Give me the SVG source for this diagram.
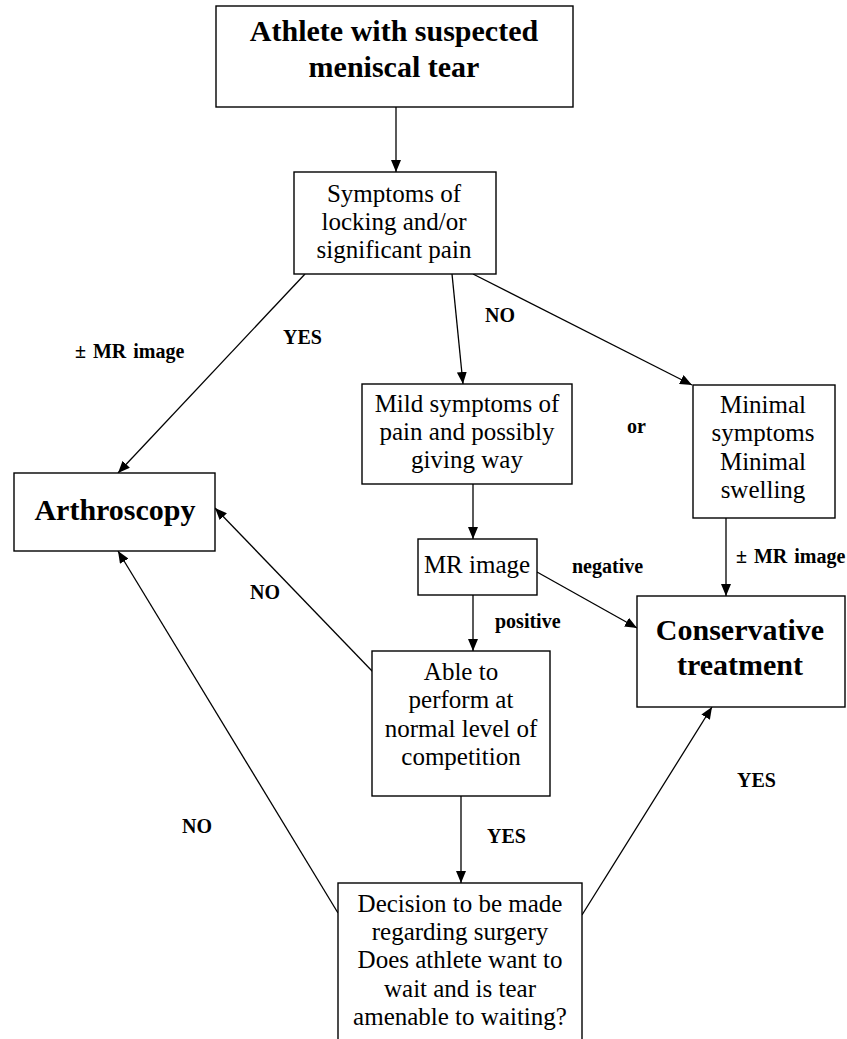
<svg xmlns="http://www.w3.org/2000/svg" width="847" height="1039" viewBox="0 0 847 1039">
<defs>
<style>
.box{fill:#fff;stroke:#000;stroke-width:1.4}
.t{font-family:"Liberation Serif","Times New Roman",serif;font-size:25px;fill:#000;text-anchor:middle}
.tb{font-family:"Liberation Serif","Times New Roman",serif;font-size:30px;font-weight:bold;fill:#000;text-anchor:middle}
.lb{font-family:"Liberation Serif","Times New Roman",serif;font-size:20px;font-weight:bold;fill:#000}
.c{fill:none;stroke:#000;stroke-width:1.3;marker-end:url(#ah)}
</style>
<marker id="ah" viewBox="0 0 12 10" refX="12" refY="5" markerWidth="12" markerHeight="10" markerUnits="userSpaceOnUse" orient="auto">
<path d="M0,0 L12,5 L0,10 Z" fill="#000"/>
</marker>
</defs>
<rect width="847" height="1039" fill="#fff"/>
<g id="connectors">
<line class="c" x1="396" y1="107" x2="396" y2="172"/>
<line class="c" x1="305" y1="274" x2="118" y2="473"/>
<line class="c" x1="452" y1="274" x2="463" y2="384"/>
<line class="c" x1="473" y1="274" x2="692" y2="385"/>
<line class="c" x1="473" y1="484" x2="473" y2="539"/>
<line class="c" x1="726" y1="518" x2="726" y2="596"/>
<line class="c" x1="537" y1="572" x2="637" y2="628"/>
<line class="c" x1="473" y1="595" x2="473" y2="651"/>
<line class="c" x1="373" y1="672" x2="215" y2="508"/>
<line class="c" x1="461" y1="796" x2="461" y2="883"/>
<line class="c" x1="338" y1="913" x2="118" y2="551"/>
<line class="c" x1="582" y1="915" x2="712" y2="707"/>
</g>
<g id="labels">
<text class="lb" x="75" y="358" word-spacing="2">± MR image</text>
<text class="lb" x="283" y="344">YES</text>
<text class="lb" x="485" y="322">NO</text>
<text class="lb" x="627" y="433">or</text>
<text class="lb" x="736" y="563" word-spacing="2">± MR image</text>
<text class="lb" x="572" y="573">negative</text>
<text class="lb" x="495" y="628">positive</text>
<text class="lb" x="250" y="599">NO</text>
<text class="lb" x="182" y="833">NO</text>
<text class="lb" x="487" y="843">YES</text>
<text class="lb" x="737" y="787">YES</text>
</g>
<g id="athlete">
<rect class="box" x="216" y="6" width="357" height="101"/>
<text class="tb" x="394" y="41" font-size="31">Athlete with suspected</text>
<text class="tb" x="394" y="77" font-size="31">meniscal tear</text>
</g>
<g id="symptoms">
<rect class="box" x="294" y="172" width="202" height="102"/>
<text class="t" x="394" y="202">Symptoms of</text>
<text class="t" x="394" y="230">locking and/or</text>
<text class="t" x="394" y="258">significant pain</text>
</g>
<g id="arthroscopy">
<rect class="box" x="14" y="473" width="201" height="78"/>
<text class="tb" x="115" y="520">Arthroscopy</text>
</g>
<g id="mild">
<rect class="box" x="362" y="384" width="210" height="100"/>
<text class="t" x="467" y="412">Mild symptoms of</text>
<text class="t" x="467" y="440">pain and possibly</text>
<text class="t" x="467" y="468">giving way</text>
</g>
<g id="minimal">
<rect class="box" x="693" y="385" width="142" height="133"/>
<text class="t" x="763" y="413">Minimal</text>
<text class="t" x="763" y="441">symptoms</text>
<text class="t" x="763" y="470">Minimal</text>
<text class="t" x="763" y="498">swelling</text>
</g>
<g id="mrimage">
<rect class="box" x="418" y="539" width="119" height="56"/>
<text class="t" x="477" y="573">MR image</text>
</g>
<g id="conservative">
<rect class="box" x="637" y="596" width="208" height="111"/>
<text class="tb" x="740" y="640">Conservative</text>
<text class="tb" x="740" y="675">treatment</text>
</g>
<g id="able">
<rect class="box" x="372" y="651" width="178" height="145"/>
<text class="t" x="461" y="680">Able to</text>
<text class="t" x="461" y="708">perform at</text>
<text class="t" x="461" y="737">normal level of</text>
<text class="t" x="461" y="765">competition</text>
</g>
<g id="decision">
<rect class="box" x="338" y="883" width="244" height="170"/>
<text class="t" x="460" y="912">Decision to be made</text>
<text class="t" x="460" y="940">regarding surgery</text>
<text class="t" x="460" y="968">Does athlete want to</text>
<text class="t" x="460" y="997">wait and is tear</text>
<text class="t" x="460" y="1025">amenable to waiting?</text>
</g>
</svg>
